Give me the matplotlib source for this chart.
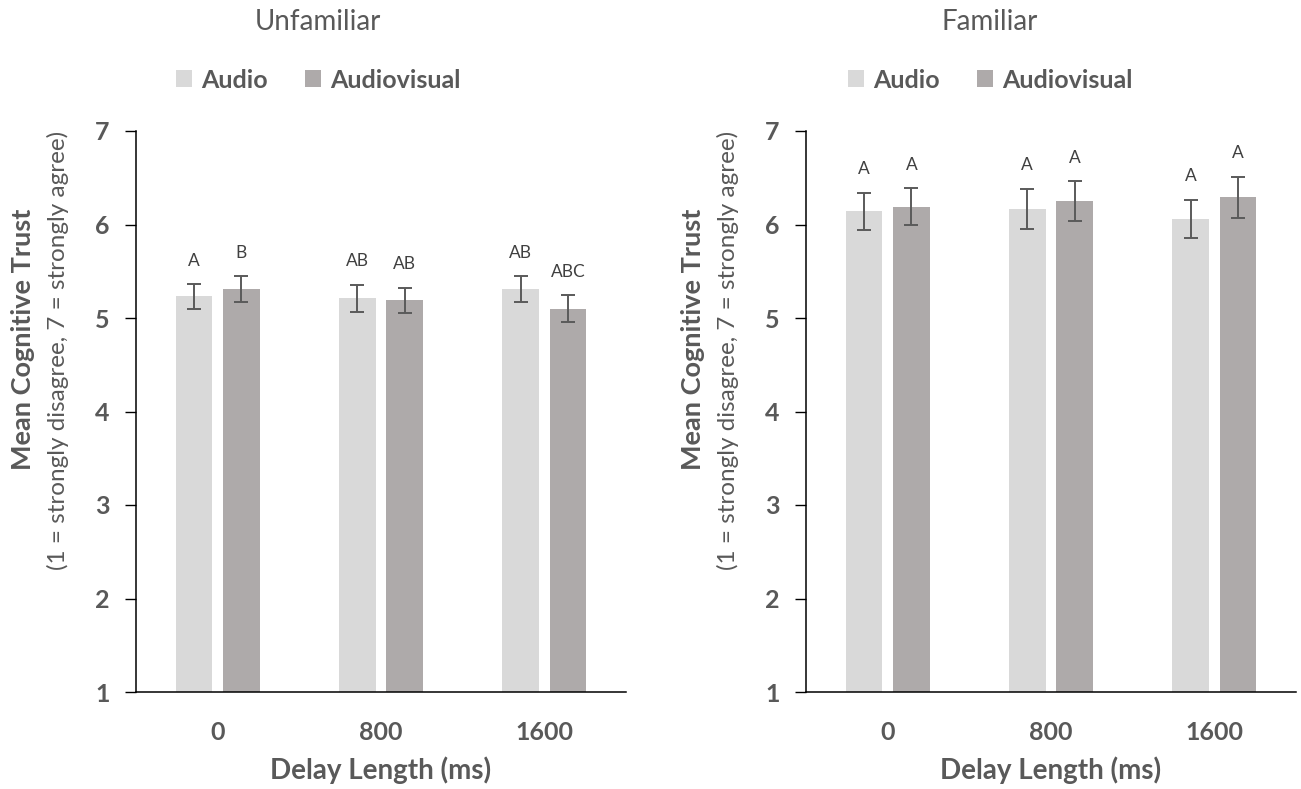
import matplotlib.pyplot as plt
import numpy as np

# data
delays = ['0', '800', '1600']
series = ['Audio', 'Audiovisual']

unfam_audio = [5.23, 5.21, 5.31]
unfam_av = [5.31, 5.19, 5.10]
unfam_audio_err = [0.13, 0.145, 0.135]
unfam_av_err = [0.135, 0.135, 0.145]
unfam_audio_lbl = ['A', 'AB', 'AB']
unfam_av_lbl = ['B', 'AB', 'ABC']

fam_audio = [6.14, 6.17, 6.06]
fam_av = [6.19, 6.25, 6.29]
fam_audio_err = [0.20, 0.215, 0.205]
fam_av_err = [0.20, 0.21, 0.22]
fam_audio_lbl = ['A', 'A', 'A']
fam_av_lbl = ['A', 'A', 'A']

plt.rcParams['font.family'] = ['Lato', 'DejaVu Sans']
txt = '#595959'
col_a = '#D9D9D9'
col_av = '#AEAAAA'

W, H = 1301, 789
fig = plt.figure(figsize=(W / 100, H / 100), dpi=100)

def draw(ax_left, title, cx, a, av, ea, eav, la, lav):
    ax = fig.add_axes([ax_left / W, (H - 692) / H, 490 / W, 561 / H])
    x = np.arange(len(delays)) + 0.5
    off = 0.145
    bw = 0.223
    ax.bar(x - off, np.array(a) - 1, bw, bottom=1, color=col_a, label=series[0])
    ax.bar(x + off, np.array(av) - 1, bw, bottom=1, color=col_av, label=series[1])
    ax.errorbar(x - off, a, yerr=ea, fmt='none', ecolor='#5a5a5a', elinewidth=1.4, capsize=5, capthick=1.4)
    ax.errorbar(x + off, av, yerr=eav, fmt='none', ecolor='#5a5a5a', elinewidth=1.4, capsize=5, capthick=1.4)
    # significance letters above the error bars
    for xi, v, e, s in zip(x - off, a, ea, la):
        ax.text(xi, v + e + 0.25, s, ha='center', va='center', fontsize=12.5, color='#404040')
    for xi, v, e, s in zip(x + off, av, eav, lav):
        ax.text(xi, v + e + 0.25, s, ha='center', va='center', fontsize=12.5, color='#404040')
    ax.set_xlim(0, 3)
    ax.set_ylim(1, 7)
    ax.set_xticks(x)
    ax.set_xticklabels(delays)
    ax.set_yticks(range(1, 8))
    ax.tick_params(axis='x', length=0, pad=21, labelsize=18, labelcolor=txt)
    ax.tick_params(axis='y', length=8, width=1, pad=11, labelsize=18, labelcolor=txt)
    for lb in ax.get_xticklabels() + ax.get_yticklabels():
        lb.set_fontweight('bold')
    for s in ['top', 'right']:
        ax.spines[s].set_visible(False)
    ax.spines['left'].set_linewidth(1.1)
    ax.spines['bottom'].set_linewidth(1.1)
    ax.set_xlabel('Delay Length (ms)', fontsize=20, fontweight='bold', color=txt, labelpad=9)
    fig.text(cx / W, 1 - 22 / H, title, ha='center', va='center', fontsize=20, color=txt)
    ax.legend(loc='center', bbox_to_anchor=(cx / W, 1 - 80 / H), bbox_transform=fig.transFigure,
              ncol=2, frameon=False, handlelength=0.65, handleheight=0.65, handletextpad=0.35,
              columnspacing=1.5, prop={'size': 18, 'weight': 'bold'}, labelcolor=txt)
    return ax

draw(136, 'Unfamiliar', 318, unfam_audio, unfam_av, unfam_audio_err, unfam_av_err, unfam_audio_lbl, unfam_av_lbl)
draw(806, 'Familiar', 990, fam_audio, fam_av, fam_audio_err, fam_av_err, fam_audio_lbl, fam_av_lbl)

for x0 in [23, 693]:
    fig.text(x0 / W, 1 - 339 / H, 'Mean Cognitive Trust', rotation=90, ha='center', va='center',
             fontsize=19.5, fontweight='bold', color=txt)
    fig.text((x0 + 35) / W, 1 - 350 / H, '(1 = strongly disagree, 7 = strongly agree)', rotation=90,
             ha='center', va='center', fontsize=17.5, color=txt)

fig.savefig('out.png', dpi=100)
